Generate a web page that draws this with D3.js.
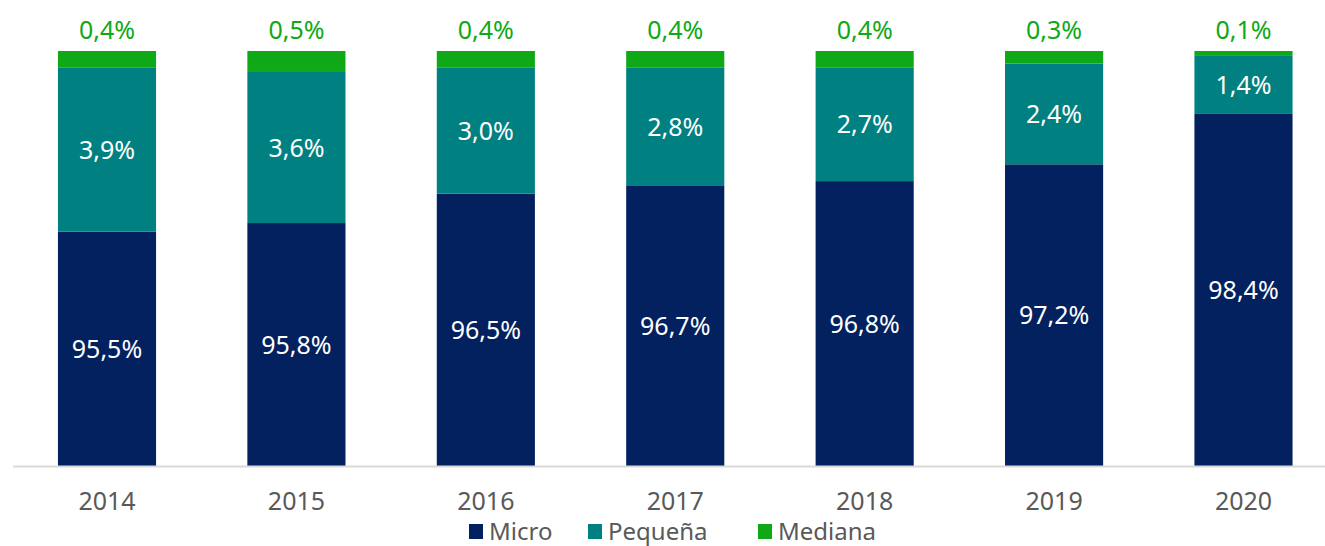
<!DOCTYPE html>
<html>
<head>
<meta charset="utf-8">
<script src="https://cdn.jsdelivr.net/npm/d3@7"></script>
<style>
  body { margin: 0; background: #fff; }
  svg { display: block; font-family: "Noto Sans", sans-serif; }
</style>
</head>
<body>
<svg id="chart"></svg>
<script>
var years = ["2014", "2015", "2016", "2017", "2018", "2019", "2020"];
var micro = [95.5, 95.8, 96.5, 96.7, 96.8, 97.2, 98.4];
var pequena = [3.9, 3.6, 3.0, 2.8, 2.7, 2.4, 1.4];
var mediana = [0.4, 0.5, 0.4, 0.4, 0.4, 0.3, 0.1];
var seriesNames = ["Micro", "Pequeña", "Mediana"];

var width = 1325, height = 546;
var colors = ["#03215e", "#008080", "#0fa817"];   // micro, pequeña, mediana
var baseY = 466, topY = 51;

var svg = d3.select("#chart").attr("width", width).attr("height", height);

// 100% stacked: each column is normalized so it sums to 100
var rows = years.map(function(y, i) {
  var sum = micro[i] + pequena[i] + mediana[i];
  return {
    year: y,
    Micro: micro[i] / sum * 100,
    "Pequeña": pequena[i] / sum * 100,
    Mediana: mediana[i] / sum * 100,
    labels: [micro[i], pequena[i], mediana[i]]
  };
});

var stack = d3.stack().keys(seriesNames)(rows);

var x = d3.scaleBand()
  .domain(years)
  .range([12.3, 1338.2])
  .paddingInner(0.482)
  .paddingOuter(0.241);

// axis does not start at zero in the original
var y = d3.scaleLinear().domain([90.1, 100]).range([baseY, topY]);

function fmt(v) { return v.toFixed(1).replace(".", ",") + "%"; }

var layers = svg.append("g").selectAll("g")
  .data(stack)
  .enter().append("g")
  .attr("fill", function(d, i) { return colors[i]; });

layers.selectAll("rect")
  .data(function(d) { return d; })
  .enter().append("rect")
  .attr("x", function(d) { return x(d.data.year); })
  .attr("width", x.bandwidth())
  .attr("y", function(d) { return y(d[1]); })
  .attr("height", function(d) { return Math.max(0, y(Math.max(d[0], 90.1)) - y(d[1])); });

// labels inside micro and pequeña
[0, 1].forEach(function(k) {
  svg.append("g").selectAll("text")
    .data(stack[k])
    .enter().append("text")
    .attr("x", function(d) { return x(d.data.year) + x.bandwidth() / 2; })
    .attr("y", function(d) { return (y(Math.max(d[0], 90.1)) + y(d[1])) / 2; })
    .attr("dy", "0.36em")
    .attr("text-anchor", "middle")
    .attr("fill", "#fff")
    .attr("font-size", 25)
    .text(function(d) { return fmt(d.data.labels[k]); });
});

// mediana labels above the bars
svg.append("g").selectAll("text")
  .data(stack[2])
  .enter().append("text")
  .attr("x", function(d) { return x(d.data.year) + x.bandwidth() / 2; })
  .attr("y", function(d) { return y(d[1]) - 12; })
  .attr("text-anchor", "middle")
  .attr("fill", colors[2])
  .attr("font-size", 25)
  .text(function(d) { return fmt(d.data.labels[2]); });

// x axis
var xAxis = d3.axisBottom(x).tickSize(0).tickPadding(26);
var gx = svg.append("g")
  .attr("transform", "translate(0," + baseY + ")")
  .call(xAxis);
gx.select(".domain").remove();
gx.selectAll("text")
  .attr("fill", "#595959")
  .attr("font-size", 25)
  .attr("font-family", "Noto Sans, sans-serif");
svg.append("line")
  .attr("x1", 13).attr("x2", width)
  .attr("y1", baseY + 0.5).attr("y2", baseY + 0.5)
  .attr("stroke", "#d9d9d9")
  .attr("stroke-width", 2);

// legend
var legendX = [469, 588, 758];
var legend = svg.append("g").selectAll("g")
  .data(seriesNames)
  .enter().append("g")
  .attr("transform", function(d, i) { return "translate(" + legendX[i] + ",524)"; });
legend.append("rect")
  .attr("width", 14).attr("height", 15)
  .attr("fill", function(d, i) { return colors[i]; });
legend.append("text")
  .attr("x", 20)
  .attr("y", 15.5)
  .attr("fill", "#595959")
  .attr("font-size", 24)
  .text(function(d) { return d; });
</script>
</body>
</html>
